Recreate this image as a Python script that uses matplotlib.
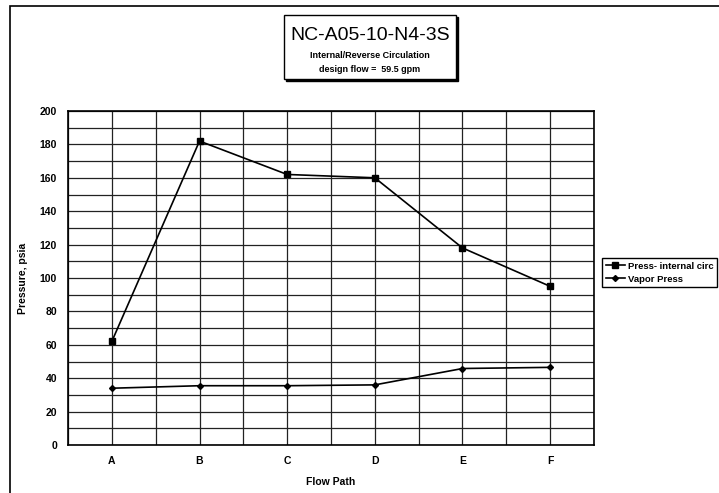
import matplotlib
matplotlib.use('Agg')
import matplotlib.pyplot as plt
from matplotlib.patches import Rectangle

plt.rcParams['font.family'] = ['Liberation Sans', 'DejaVu Sans']

flow_path = ['A', 'B', 'C', 'D', 'E', 'F']
press_internal = [62, 182, 162, 160, 118, 95]
vapor_press = [34, 35.5, 35.5, 36, 45.8, 46.5]

fig = plt.figure(figsize=(7.19, 4.93), dpi=100)

# outer border (cut off at right and bottom like the scan)
fig.patches.append(Rectangle((10/719, -0.1), 1.2, (493-6)/493 + 0.1, transform=fig.transFigure,
                             fill=False, edgecolor='black', linewidth=1.2))

ax = fig.add_axes([68/719, 48/493, (594-68)/719, (445-111)/493])
x = range(len(flow_path))
ax.plot(x, press_internal, color='black', linewidth=1.2, marker='s', markersize=5,
        label='Press- internal circ')
ax.plot(x, vapor_press, color='black', linewidth=1.2, marker='D', markersize=3,
        label='Vapor Press')

ax.set_xlim(-0.5, 5.5)
ax.set_ylim(0, 200)
ax.set_xticks(list(x))
ax.set_xticklabels(flow_path)
ax.set_xticks([i + 0.5 for i in range(-1, 6)], minor=True)
ax.set_yticks(range(0, 201, 20))
ax.set_yticks(range(10, 200, 20), minor=True)
ax.grid(True, which='both', color='#222222', linewidth=0.9)
ax.tick_params(axis='both', which='both', length=0, labelsize=7.5, pad=8)
for lbl in ax.get_xticklabels() + ax.get_yticklabels():
    lbl.set_fontweight('semibold')
for s in ax.spines.values():
    s.set_linewidth(1.2)
ax.set_xlabel('Flow Path', fontsize=7.5, labelpad=8, fontweight='semibold')
ax.set_ylabel('Pressure, psia', fontsize=7.5, labelpad=8, fontweight='semibold')

# title box with shadow
fig.patches.append(Rectangle((286/719, (493-81)/493), 172/719, 64/493, transform=fig.transFigure,
                             facecolor='black', edgecolor='black'))
fig.patches.append(Rectangle((284/719, (493-79)/493), 172/719, 64/493, transform=fig.transFigure,
                             facecolor='white', edgecolor='black', linewidth=1))
fig.text(370/719, (493-35)/493, 'NC-A05-10-N4-3S', fontsize=14, ha='center', va='center')
fig.text(370/719, (493-56)/493, 'Internal/Reverse Circulation', fontsize=6.5, ha='center',
         va='center', fontweight='semibold')
fig.text(370/719, (493-70)/493, 'design flow =  59.5 gpm', fontsize=6.5, ha='center',
         va='center', fontweight='semibold')

leg = fig.legend(loc='upper left', bbox_to_anchor=(602/719, (493-258)/493),
                 fancybox=False, edgecolor='black', framealpha=1, handlelength=2.0,
                 borderaxespad=0, borderpad=0.4, labelspacing=0.4, handletextpad=0.3,
                 prop={'size': 6.8, 'weight': 'bold'})
leg.get_frame().set_linewidth(1)

fig.savefig('out.png', dpi=100)
